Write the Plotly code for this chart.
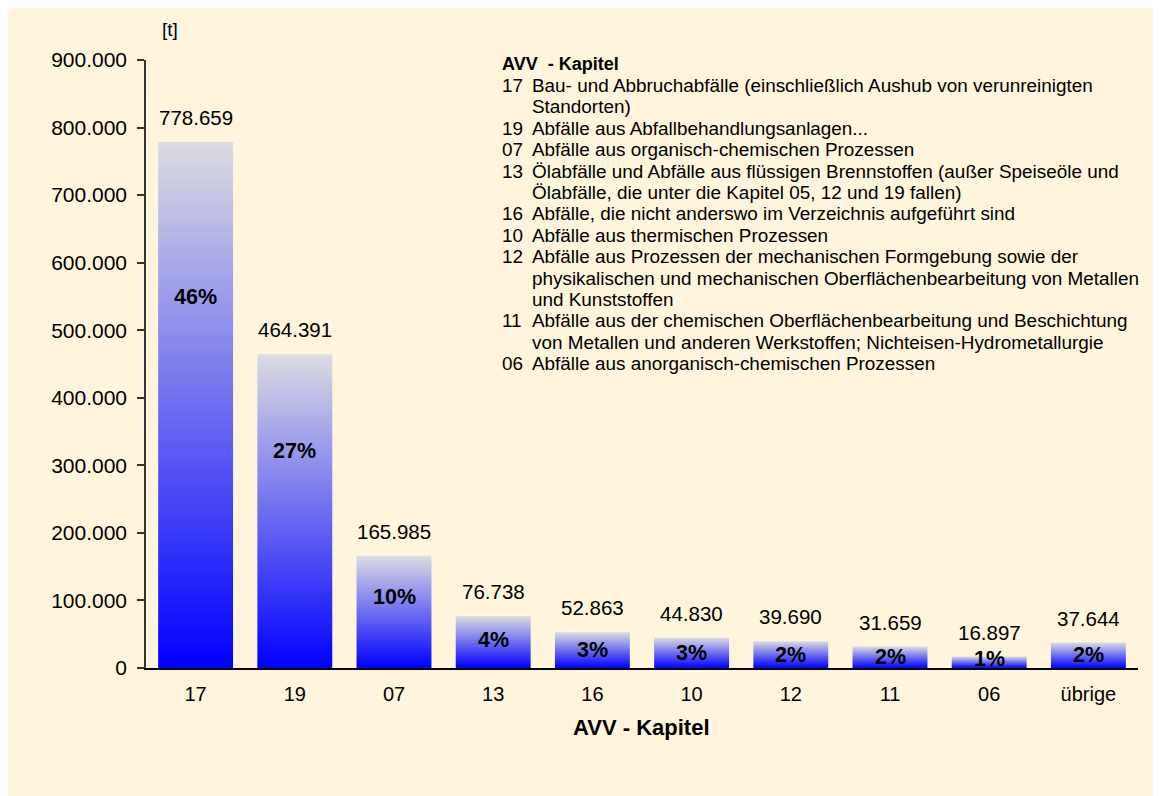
"""Column chart of waste quantities per AVV chapter with gradient-filled bars."""

import plotly.graph_objects as go

# --- data -------------------------------------------------------------------
categories = ["17", "19", "07", "13", "16", "10", "12", "11", "06", "übrige"]
tonnes = [778659, 464391, 165985, 76738, 52863, 44830, 39690, 31659, 16897, 37644]

legend_title = "AVV\u00a0 - Kapitel"
legend_codes = ["17", "19", "07", "13", "16", "10", "12", "11", "06"]
legend_texts = [
    ["Bau- und Abbruchabfälle (einschließlich Aushub von verunreinigten",
     "Standorten)"],
    ["Abfälle aus Abfallbehandlungsanlagen..."],
    ["Abfälle aus organisch-chemischen Prozessen"],
    ["Ölabfälle und Abfälle aus flüssigen Brennstoffen (außer Speiseöle und",
     "Ölabfälle, die unter die Kapitel 05, 12 und 19 fallen)"],
    ["Abfälle, die nicht anderswo im Verzeichnis aufgeführt sind"],
    ["Abfälle aus thermischen Prozessen"],
    ["Abfälle aus Prozessen der mechanischen Formgebung sowie der",
     "physikalischen und mechanischen Oberflächenbearbeitung von Metallen",
     "und Kunststoffen"],
    ["Abfälle aus der chemischen Oberflächenbearbeitung und Beschichtung",
     "von Metallen und anderen Werkstoffen; Nichteisen-Hydrometallurgie"],
    ["Abfälle aus anorganisch-chemischen Prozessen"],
]

FONT = "Liberation Sans, Arial, sans-serif"
BG = "#FFF4DC"
BAR_WIDTH = 0.755
GRADIENT = [[0, "#0000FF"], [1, "#DCDCE2"]]
PLOT_H = 608          # plot area height in px (height - top - bottom margin)
LINE_H = 21.4         # line spacing of the description block in px

total = sum(tonnes)
shares = [f"{round(v / total * 100)}%" for v in tonnes]


def de(n):
    return f"{n:,}".replace(",", ".")


fig = go.Figure()

# bars as filled rectangles so each one gets its own vertical gradient
for i, (cat, v) in enumerate(zip(categories, tonnes)):
    x0, x1 = i - BAR_WIDTH / 2, i + BAR_WIDTH / 2
    fig.add_trace(go.Scatter(
        x=[x0, x0, x1, x1, x0],
        y=[0, v, v, 0, 0],
        mode="lines",
        line=dict(width=0),
        fill="toself",
        fillgradient=dict(type="vertical", colorscale=GRADIENT),
        hoveron="fills",
        text=f"AVV {cat}: {de(v)} t",
        hoverinfo="text",
        showlegend=False,
    ))

# value labels above, share labels inside the bars
for i, (v, s) in enumerate(zip(tonnes, shares)):
    fig.add_annotation(x=i, y=v, text=de(v), showarrow=False,
                       yanchor="bottom", yshift=11,
                       font=dict(size=20.5, color="black"))
    label_y = max(v / 2, 0.724 * v - 14600, 14000)
    fig.add_annotation(x=i, y=label_y, text=f"<b>{s}</b>", showarrow=False,
                       yanchor="middle", font=dict(size=21.5, color="black"))

# legend-like text block with chapter descriptions, one annotation per line
rows = [(f"<b>{legend_title}</b>", "")]
for code, lines in zip(legend_codes, legend_texts):
    for k, line in enumerate(lines):
        rows.append((code if k == 0 else "", line))

for k, (code, line) in enumerate(rows):
    y = 1 - (4 + LINE_H * k) / PLOT_H
    if code:
        fig.add_annotation(xref="paper", yref="paper", x=0.357, y=y,
                           xanchor="left", yanchor="middle", showarrow=False,
                           text=code, font=dict(size=18.9 if k else 18, color="black"))
    if line:
        fig.add_annotation(xref="paper", yref="paper", x=0.387, y=y,
                           xanchor="left", yanchor="middle", showarrow=False,
                           text=line, font=dict(size=18.9, color="black"))

# unit and axis title
fig.add_annotation(xref="paper", yref="paper", x=0.024, y=1 + 30 / PLOT_H,
                   text="[t]", showarrow=False, xanchor="center", yanchor="middle",
                   font=dict(size=19, color="black"))
fig.add_annotation(xref="paper", yref="paper", x=0.499, y=-59 / PLOT_H,
                   text="<b>AVV - Kapitel</b>", showarrow=False,
                   xanchor="center", yanchor="middle",
                   font=dict(size=22, color="black"))

fig.update_layout(
    width=1150, height=790,
    margin=dict(l=138, r=20, t=52, b=130),
    paper_bgcolor=BG, plot_bgcolor=BG,
    font=dict(family=FONT, size=20, color="black"),
    separators=",.",
    xaxis=dict(
        tickmode="array", tickvals=list(range(len(categories))), ticktext=categories,
        range=[-0.5, len(categories) - 0.5], showgrid=False, zeroline=False,
        showline=True, linecolor="black", linewidth=1.5, ticks="",
        tickfont=dict(size=20), ticklabelstandoff=7, fixedrange=True,
    ),
    yaxis=dict(
        range=[0, 900000], dtick=100000, tickformat=",d", showgrid=False,
        zeroline=False, showline=True, linecolor="#333333", linewidth=1.5,
        ticks="outside", ticklen=7, tickcolor="#333333", tickwidth=1.5,
        tickfont=dict(size=21), ticklabelstandoff=6,
    ),
    hoverlabel=dict(bgcolor="white", font_size=14),
)

fig.write_html("out.html")
